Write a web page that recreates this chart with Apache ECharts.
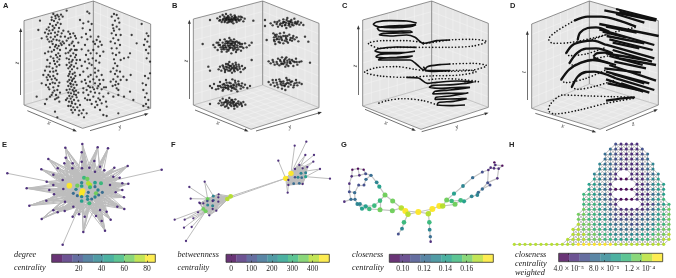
<!DOCTYPE html>
<html><head><meta charset="utf-8">
<style>html,body{margin:0;padding:0;background:#fff}#c{width:676px;height:278px}</style>
<script src="https://cdn.jsdelivr.net/npm/echarts@6/dist/echarts.min.js"></script>
</head><body><div id="c"></div>
<script>
const VIRIDIS=['#440154','#482878','#3E4A89','#31688E','#26828E','#1F9E89','#35B779','#6DCD59','#B4DE2C','#FDE725'];
const VIRIDIS_SOFT=['#693476','#6D5393','#656EA0','#5A86A5','#519BA5','#4CB1A1','#5DC594','#8AD77A','#C3E556','#FDEC51'];

const boxA=[[280,3],[72,62],[452,72],[72,315],[248,385],[452,325],[280,255]];
const boxB=[[278,3],[70,57],[447,70],[70,315],[243,388],[447,323],[278,255]];
const boxC=[[275,3],[68,60],[445,70],[68,318],[243,388],[445,322],[275,258]];
const boxD=[[250,3],[77,72],[457,62],[77,325],[282,388],[457,315],[250,252]];
const arrowsA=[[62,285,62,90],[82,332,225,392],[270,392,440,342]];
const arrowsB=[[58,297,58,65],[75,330,230,392],[258,393,450,338]];
const arrowsC=[[55,285,55,82],[75,328,222,390],[245,395,440,340]];
const arrowsD=[[64,300,64,98],[88,340,265,395],[300,392,450,330]];

const pointsA=[[160,42],[172,45],[183,44],[155,52],[167,55],[178,58],[188,50],[162,63],[173,68],[150,72],[158,78],[168,75],[182,72],[140,88],[148,92],[158,90],[135,98],[145,102],[165,98],[175,95],[190,92],[140,110],[152,112],[172,105],[182,110],[160,118],[170,120],[178,122],[148,125],[188,125],[158,132],[168,135],[176,138],[185,135],[150,142],[172,145],[180,150],[162,150],[145,155],[135,160],[175,160],[168,165],[180,168],[152,170],[160,175],[178,178],[142,180],[172,185],[150,190],[165,192],[178,195],[140,200],[158,205],[135,212],[150,215],[168,212],[145,225],[160,228],[130,225],[172,222],[155,238],[143,240],[170,240],[165,250],[150,252],[138,255],[175,258],[160,262],[148,268],[172,270],[180,278],[158,278],[168,285],[150,290],[175,292],[165,298],[140,298],[178,305],
[205,95],[220,100],[195,110],[212,112],[228,115],[200,122],[218,125],[235,128],[208,135],[222,138],[198,145],[214,148],[230,150],[205,158],[220,160],[212,168],[225,172],[200,175],[218,180],[208,188],[228,190],[214,195],[222,200],[205,205],[216,208],[210,215],[224,218],[218,222],[205,228],[213,232],[222,235],[208,240],[216,243],[226,246],[211,250],[220,254],[205,258],[214,260],[223,264],[209,268],[218,270],[228,272],[205,278],[213,280],[222,283],[208,288],[217,290],[230,292],[212,296],[222,300],[235,302],[207,305],[216,310],[226,312],[212,318],[220,322],[214,330],[240,315],[250,330],[245,340],[252,352],[238,332],[232,322],
[262,35],[268,40],[240,60],[250,70],[265,65],[275,72],[248,85],[270,90],[258,102],[245,112],[262,118],[255,135],[245,148],[265,152],[258,165],[240,180],[255,185],[268,190],[245,198],[262,205],[250,215],[240,225],[265,230],[255,240],
[295,110],[290,120],[300,125],[285,132],[295,140],[280,150],[290,160],[300,168],[278,175],[288,182],[298,188],[275,195],[285,205],[295,212],[305,225],[290,230],[280,238],[298,240],[270,245],[285,250],[300,252],[265,258],[278,262],[292,265],[305,268],[260,270],[272,275],[285,278],[298,280],[250,278],[265,285],[280,290],[295,295],[310,290],[255,295],[270,300],[288,305],[305,310],[318,305],[285,322],[300,330],[320,320],[310,345],[320,348],[250,265],
[342,42],[350,45],[355,55],[345,62],[338,75],[350,80],[358,88],[342,92],[335,100],[348,105],[340,115],[355,120],[345,130],[350,145],[338,160],[348,165],[358,158],[372,175],[385,172],[345,190],[352,198],[340,205],[350,212],[345,222],[353,230],[340,238],[348,245],[355,252],[338,258],[350,265],[395,105],[410,130],[390,160],[370,230],[380,240],[325,280],[340,290],[355,285],[390,275],[355,340],
[440,100],[445,108],[435,118],[442,125],[432,135],[448,140],[438,150],[445,160],[440,175],[450,185],[435,228],[445,235],[428,250],[438,255],[450,220],[430,270],[440,280],[435,292],[445,300],[438,312],[430,318],[445,322],[425,72],
[120,62],[200,32],[115,90],[125,115],[198,300],[165,335],[135,312],[172,352],[110,290],[125,250],[392,225],[400,300],[372,290],
[155,60],[166,48],[176,50],[146,82],[163,84],[177,84],[153,100],[185,100],[143,118],[165,110],[155,124],[182,130],[165,140],[155,155],[172,172],[162,183],[148,200],[170,200],[160,215],[140,232],[150,230],[165,235],[158,248],[178,248],[145,262],[163,272],[155,285],[170,295],
[210,102],[225,108],[205,115],[192,130],[215,130],[225,150],[210,152],[197,160],[228,165],[207,178],[230,180],[215,185],[200,195],[232,205],[210,200],[226,228],[203,245],[230,255],[200,270],[235,278],[202,295],[228,285],[225,330],[205,318],[218,338],[236,345],[260,340],[215,305],[222,275],[212,252],[218,238],[208,222],
[272,110],[280,125],[305,135],[272,160],[310,155],[265,178],[285,218],[272,225],[310,240],[258,250],[312,262],[245,245],[282,268],[295,258],[270,262],[262,300],[300,300],[275,312],[292,315],[318,262],
[335,50],[358,68],[340,85],[362,105],[332,125],[360,135],[335,145],[342,178],[362,180],[332,215],[360,215],[332,245],[362,240],[346,255],[355,270]];

const pointsB=[[120,60],[250,62],[142,55],[148,62],[150,50],[155,66],[158,45],[160,57],[163,50],[165,62],[168,42],[170,54],[172,68],[174,48],[176,60],[178,52],[180,64],[182,44],[184,56],[186,50],[188,62],[190,70],[192,54],[194,46],[196,60],[198,52],[200,66],[203,56],[206,50],[208,62],[212,58],[216,52],[220,64],[224,56],[168,58],[178,58],[186,58],[196,56],[172,52],[164,66],
[98,132],[245,128],[130,135],[135,142],[140,128],[143,150],[146,135],[150,120],[152,142],[155,155],[158,128],[160,136],[162,148],[164,118],[166,130],[168,142],[170,155],[172,124],[174,136],[176,148],[178,114],[180,130],[182,142],[184,160],[186,124],[188,136],[190,150],[192,118],[194,130],[196,142],[198,156],[200,124],[202,136],[205,148],[208,128],[210,140],[213,152],[216,132],[220,144],[225,130],[230,142],[238,136],[165,136],[172,130],[180,136],[188,144],[196,134],[204,128],[160,144],[176,140],[184,132],[192,138],
[115,200],[120,212],[245,180],[146,208],[150,200],[154,212],[158,196],[162,205],[165,216],[168,192],[172,202],[175,212],[178,186],[180,198],[183,208],[186,218],[188,192],[191,204],[194,214],[197,188],[200,200],[203,210],[206,194],[209,206],[212,216],[216,198],[220,208],[225,204],[178,204],[186,204],[170,208],[196,204],
[120,258],[126,264],[132,252],[138,268],[144,258],[150,246],[154,262],[158,272],[162,252],[165,262],[168,240],[172,256],[175,268],[178,248],[181,260],[184,272],[187,238],[190,254],[193,266],[196,248],[199,260],[202,274],[205,244],[208,256],[212,266],[216,250],[220,262],[225,254],[232,264],[240,258],[175,258],[184,258],[192,256],[168,264],[200,254],[160,262],
[120,312],[146,310],[150,302],[154,316],[158,296],[162,308],[165,320],[168,300],[172,312],[175,324],[178,294],[181,306],[184,318],[187,300],[190,312],[193,326],[196,298],[199,310],[202,320],[205,304],[208,314],[212,308],[216,318],[220,306],[226,314],[176,308],[184,310],[192,306],[170,318],[198,316],
[285,60],[285,78],[400,75],[302,70],[308,76],[314,66],[320,72],[324,80],[328,62],[332,70],[336,78],[340,58],[343,66],[346,74],[349,84],[352,54],[355,64],[358,72],[361,80],[364,60],[367,68],[370,76],[373,56],[376,66],[380,72],[384,64],[388,74],[393,68],[348,68],[356,70],[338,70],[362,66],
[290,120],[405,110],[415,125],[310,100],[312,112],[314,124],[316,132],[320,104],[322,116],[326,126],[330,100],[332,110],[336,120],[340,130],[342,98],[346,108],[350,118],[354,128],[358,104],[362,114],[366,122],[370,108],[374,118],[380,112],[385,124],[320,118],[334,114],[348,114],[312,120],[326,110],
[420,188],[296,184],[302,190],[308,180],[314,194],[320,186],[324,176],[328,196],[332,184],[336,172],[340,192],[343,180],[346,200],[349,172],[352,188],[355,198],[358,178],[362,190],[366,180],[370,198],[374,186],[378,176],[382,194],[388,186],[394,184],[344,188],[352,182],[336,190],[360,184],
[296,246],[302,254],[308,240],[314,258],[320,248],[324,262],[328,238],[332,252],[336,266],[340,244],[343,256],[346,270],[349,234],[352,248],[355,260],[358,240],[362,254],[366,244],[370,262],[374,250],[378,240],[382,256],[388,248],[395,252],[340,250],[348,252],[334,246],[356,250],
[170,60],[175,56],[182,60],[190,58],[198,60],[165,55],[205,60],[185,66],[176,66],[195,50],[158,60],[212,50],[150,60],
[150,135],[158,140],[166,142],[174,128],[180,144],[186,130],[194,146],[202,142],[210,132],[168,124],[178,124],[190,126],[155,148],[175,152],[200,150],[145,128],[215,140],[182,120],[170,148],[196,126],
[160,200],[168,200],[176,196],[184,198],[192,198],[200,206],[208,200],[165,210],[180,212],[192,210],[174,192],[198,194],
[150,258],[158,254],[166,256],[174,264],[182,250],[190,262],[198,268],[206,252],[214,258],[170,248],[186,264],[160,268],[195,242],[145,266],
[160,314],[166,306],[174,302],[180,314],[188,306],[196,314],[204,310],[170,306],[184,300],[192,318],[155,308],[214,312],
[330,74],[340,66],[350,60],[356,76],[366,74],[375,70],[345,76],[322,66],[382,68],[360,64],
[318,110],[328,118],[340,108],[352,108],[360,120],[368,114],[344,122],[330,128],[350,124],[315,105],
[310,186],[322,192],[330,180],[342,184],[350,194],[360,188],[370,184],[380,186],[334,192],[346,176],
[310,248],[322,254],[330,244],[344,258],[352,240],[362,246],[372,256],[380,248],[336,256],[318,240]];

const solidC=[
[[230,69],[200,63],[150,62],[110,66],[100,73],[115,80],[160,83],[210,80],[228,74],[200,76],[140,79],[112,85],[120,92],[160,94],[210,93],[217,97],[180,99],[130,100],[118,104],[150,108],[200,105],[225,112],[250,130],[290,122],[330,120]],
[[230,142],[170,141],[115,146],[105,153],[130,158],[190,158],[225,154],[180,160],[120,163],[108,170],[140,174],[200,172],[218,168],[170,172],[122,175],[115,180],[150,180],[210,180],[232,195],[252,210],[262,200],[300,194],[330,192]],
[[255,212],[275,214],[330,212],[262,212],[250,200]],
[[200,232],[235,234],[262,250],[290,247],[350,243],[400,246],[340,254],[280,256],[268,262],[300,265],[360,262],[390,262],[330,270],[285,274],[278,282],[320,280],[375,280],[385,278],[330,288],[288,292],[285,298],[330,297],[380,296],[340,304],[295,308],[292,315],[330,317],[375,315]]];
const dottedC=[
[[250,132],[330,120],[400,118],[440,125],[400,138],[320,142],[230,142]],
[[250,128],[200,122],[130,122],[85,130],[120,145],[180,142],[230,142]],
[[330,192],[400,190],[440,197],[400,210],[330,214],[270,212]],
[[330,212],[380,210],[408,215],[360,225],[270,228],[200,232],[120,228],[74,216],[110,203],[170,200],[225,208],[250,212]],
[[375,246],[415,245],[360,238],[300,236],[262,240]],
[[292,315],[250,302],[190,296],[140,302],[110,312]]];

const solidD=[
[[295,31],[450,62]],[[330,27],[452,58]],[[340,35],[440,60]],[[330,42],[415,68]],[[280,72],[458,108]],[[300,80],[392,98]],[[290,95],[360,112]],[[280,88],[445,135]],[[302,108],[415,130]],[[310,118],[440,150]],[[320,128],[400,145]],
[[300,134],[445,175]],[[320,150],[438,185]],[[300,160],[420,180]],[[310,168],[410,195]],[[340,175],[450,195]],[[325,185],[420,205]],[[295,205],[405,218]],[[310,195],[450,242]],[[300,215],[430,250]],[[300,238],[412,275]],[[330,235],[445,270]],[[320,222],[415,250]],[[305,250],[400,270]],[[345,250],[430,278]],
[[385,292],[350,295],[300,302]],
[[390,80],[340,62],[285,50],[245,50],[205,62]],
[[215,120],[222,98],[245,84],[270,82],[310,95]],
[[180,160],[200,135],[230,125],[260,122],[300,135]],
[[190,190],[212,160],[240,146],[270,145],[320,160]],
[[262,170],[272,160],[295,158],[340,172]],[[262,172],[280,180],[330,195]],
[[165,240],[190,208],[225,188],[260,180],[310,190]],
[[197,262],[215,230],[240,216],[265,215],[330,235]]];
const dottedD=[
[[205,62],[150,95],[128,118],[140,130],[190,128],[270,112],[350,90],[390,82]],
[[215,120],[216,126],[260,118],[310,100]],
[[180,160],[190,167],[240,162],[300,142]],
[[190,190],[198,195],[250,180],[320,165]],
[[165,240],[178,248],[240,235],[310,205]],
[[197,262],[215,268],[270,258],[330,240]],
[[385,292],[320,290],[250,288],[170,285],[135,310],[127,330],[145,342],[220,330],[300,310],[385,295]]];

const nodesE=[[208,152,9,'bcd'],[248,168,9,'cdefg'],[265,145,8,'deh'],[252,128,6,'hj'],[288,175,7,'fgh'],[268,205,6,'gi'],[245,198,5,'ij'],[303,145,6,'j'],[228,163,4,'j'],[285,155,3,''],
[245,176,9,'aceh'],[270,150,8,'afg'],[262,132,7,'aef'],[232,152,7,'ceh'],[270,157,6,'ag'],[245,153,5,'ef'],[245,143,4,'fh'],[285,143,5,'ag'],[220,175,3,'dh'],[232,182,3,'ce'],[245,185,4,'ch'],[262,184,4,'ad'],[263,193,4,'cd'],[275,192,3,'ad'],[285,186,4,'ac'],[296,180,3,'ad'],[307,172,3,'ac'],[265,172,3,'ad'],[294,165,4,'ag'],[220,215,1,'cd'],[300,225,1,'cd'],
[22,115,1,'a'],[485,104,1,'h'],[247,27,1,'cd'],[196,38,1,'ad'],[293,37,1,'dch'],[324,40,1,'ch'],[145,72,1,'ad'],[197,68,1,'adc'],[124,103,1,'ai'],[173,100,1,'adb'],[383,93,1,'hc'],[343,98,1,'hjc'],[313,106,1,'hcd'],[80,160,1,'ai'],[140,140,1,'adi'],[160,119,1,'adb'],[188,135,1,'bcd'],[190,162,1,'bgi'],[148,165,1,'aig'],[162,178,1,'agb'],[139,197,1,'aig'],[88,212,1,'ig'],[125,252,1,'ig'],[160,226,1,'igf'],[173,232,1,'gfi'],[194,228,1,'gfb'],[195,200,1,'gib'],[218,245,1,'gf'],[237,238,1,'gfb'],[254,245,1,'gfe'],[250,291,1,'gf'],[188,329,1,'g'],[315,287,1,'fe'],[288,243,1,'fge'],[332,254,1,'fe'],[320,230,1,'feh'],[305,258,1,'fe'],[373,222,1,'ef'],[352,215,1,'efj'],[372,187,1,'ehj'],[385,146,1,'he'],[367,145,1,'hjb'],[367,165,1,'ehj'],[347,172,1,'ehb'],[340,125,1,'hcj'],[359,128,1,'hcj'],[330,150,1,'hjb'],[193,85,1,'adc'],[217,100,1,'adc'],[245,80,1,'dcb'],[268,98,1,'dch'],[285,110,1,'hdc'],[283,78,1,'dch'],[245,52,1,'dc'],[300,95,1,'hcd'],[218,85,1,'dab'],[246,100,1,'dcb'],[160,150,1,'aib']];

const nodesF=[[172,192,8,'bcdefh'],[182,184,8,'cdefh'],[113,192,7,'def'],[100,222,7,'ef'],[107,229,7,'f'],[130,183,4,''],[363,115,9,'hijkl'],[347,130,9,'ijkl'],[375,127,2,'jk'],[395,128,3,'kl'],[355,150,1,'l'],[407,125,5,''],
[146,178,1,'acd'],[145,187,1,'ade'],[130,196,3,'abd'],[112,198,2,'abe'],[128,198,1,'bde'],[113,210,4,'abf'],[128,212,4,'abc'],[100,205,1,'ab'],[145,200,1,'cde'],[128,222,1,'acd'],[139,227,1,'bcd'],[118,241,1,'de'],[90,205,1,'cde'],
[104,140,1,'cf'],[58,156,1,'c'],[62,191,1,'c'],[88,203,1,'d'],[84,232,1,'de'],[14,254,1,'d'],[44,254,1,'de'],[70,250,1,'e'],[42,278,1,'e'],[65,276,1,'e'],[48,318,1,'e'],
[409,20,1,'g'],[374,32,1,'g'],[325,77,1,'h'],[406,60,1,'gi'],[432,60,1,'g'],[430,80,1,'gi'],[450,102,1,'gl'],[480,131,1,'l'],[353,173,1,'hk'],[388,90,1,'gj'],[398,100,1,'gl'],[375,102,1,'hj'],[412,96,1,'gk'],[393,115,4,'hk'],[407,113,4,'gk'],[384,127,4,'hk'],[371,146,3,'gl'],[388,145,3,'gl'],[398,147,1,'gi'],[355,135,1,'il']];
const cliquesF=[[0,1,2,3,4,5,12,13,14,15,16,17,18,19,20,21,22,23,24],[6,7,8,9,10,11,45,46,47,48,49,50,51,52,53,54,55]];

const nodesG=[[13,200,1],[33,193,3],[45,193,3],[28,170,2],[44,173,3],[28,146,1],[35,124,1],[37,104,0],[54,101,0],[71,104,0],[58,121,1],[77,116,2],[93,121,3],[78,133,3],[110,142,4],[118,155,5],[135,180,7],[120,197,6],[103,212,6],[120,224,7],[158,198,7],[157,227,7],[88,222,6],[66,221,5],[77,214,5],[60,207,4],[52,207,4],[72,150,2],[56,150,2],[184,219,8],[196,228,9],[204,238,8],[235,231,9],[265,236,8],[277,222,9],[298,213,9],[308,213,8],[192,262,6],[186,281,4],[175,297,2],[268,262,6],[269,284,4],[271,305,3],[272,320,1],[320,195,7],[335,198,6],[342,176,5],[369,153,4],[398,128,3],[427,111,2],[445,105,1],[452,98,1],[463,82,0],[466,90,1],[476,101,1],[487,92,0],[462,100,1],[472,130,1],[443,143,2],[450,150,2],[427,162,3],[415,172,3],[412,180,4],[395,184,4],[372,199,5],[362,196,6],[345,208,7]];
const pathsG=[[0,1,2,26,25,24,18,17,16,15,14,12,11,9,8,7,6,5,3,1],[3,4,2],[6,10,8],[10,11],[4,28,27,13,12],[26,23,22,19,21,29],[24,22],[17,19],[16,20,29],[29,30,31,32,33,34,35,36,44],[31,37,38,39],[33,40,41,42,43],[36,66,65,64,63,62,61,60,58,57,54,55],[44,46,47,48,49,50,51,56,52,53,55],[56,54],[50,58,59,60],[44,45,65],[45,66],[30,32],[32,34]];

/* rows of the lattice, top row first: [first column, level per node, '.' = no node] */
const rowsH=[[19,'21111'],[18,'3211112'],[17,'332111123'],[17,'332211223'],[16,'43321111234'],[16,'44321111234'],[15,'44321..111234'],[15,'5432100111345'],[14,'55431....112455'],[14,'554310000112455'],[13,'665431....111345'],[13,'6654321000112456'],[13,'6665421....112456'],[13,'76654321111123567'],[12,'776654321112234567'],[12,'776655322222334567'],[12,'877655433322344667'],[11,'8877665443333445677'],[11,'8887766544444556778'],[10,'88887776655555667788'],[0,'88888888888899999998888888888']];

const ticksE=[20,40,60,80],ticksF=[0,100,200,300,400],ticksG=[0.10,0.12,0.14,0.16],ticksH=[4e-5,8e-5,1.2e-4];
const fmtG=v=>v.toFixed(2);
const fmtH=v=>({'0.00004':'4.0 × 10⁻⁵','0.00008':'8.0 × 10⁻⁵','0.00012':'1.2 × 10⁻⁴'})[String(+v.toFixed(6))]||'';

const grids=[],xAxes=[],yAxes=[],series=[],graphics=[];
function panel(px,py,h){
  const i=grids.length;
  grids.push({left:px,top:py,width:170,height:h/3});
  xAxes.push({type:'value',gridIndex:i,min:0,max:510,show:false});
  yAxes.push({type:'value',gridIndex:i,min:0,max:h,inverse:true,show:false});
  return {xAxisIndex:i,yAxisIndex:i};
}
function box(ax,c,arrows){
  series.push(Object.assign({type:'custom',silent:true,animation:false,z:1,clip:false,data:[[0,0]],
    renderItem(p,api){
      const P=c.map(q=>api.coord(q));
      const [bt,lt,rt,lb,fb,rb,bb]=P,kids=[];
      const poly=(pts,fill)=>kids.push({type:'polygon',shape:{points:pts},style:{fill}});
      const seg=(a,b,stroke,w)=>kids.push({type:'line',shape:{x1:a[0],y1:a[1],x2:b[0],y2:b[1]},style:{stroke,lineWidth:w}});
      const mix=(a,b,t)=>[a[0]+(b[0]-a[0])*t,a[1]+(b[1]-a[1])*t];
      poly([lt,bt,bb,lb],'#e6e6e6');poly([bt,rt,rb,bb],'#e6e6e6');poly([lb,bb,rb,fb],'#e6e6e6');
      for(let k=1;k<8;k++){const t=k/8,G='#f4f4f4';
        seg(mix(lt,bt,t),mix(lb,bb,t),G,.5);seg(mix(lt,lb,t),mix(bt,bb,t),G,.5);
        seg(mix(bt,rt,t),mix(bb,rb,t),G,.5);seg(mix(bt,bb,t),mix(rt,rb,t),G,.5);
        seg(mix(lb,bb,t),mix(fb,rb,t),G,.5);seg(mix(lb,fb,t),mix(bb,rb,t),G,.5);}
      [[lt,bt],[bt,rt],[lt,lb],[rt,rb],[bt,bb],[lb,fb],[fb,rb]].forEach(e=>seg(e[0],e[1],'#666',.7));
      seg(lb,bb,'#9a9a9a',.5);seg(bb,rb,'#9a9a9a',.5);
      return {type:'group',children:kids};
    }},ax));
  series.push(Object.assign({type:'scatter',symbolSize:0,silent:true,animation:false,z:2,data:arrows.map(a=>[a[2],a[3]]),
    markLine:{silent:true,animation:false,symbol:['none','triangle'],symbolSize:[3,4],label:{show:false},
      lineStyle:{color:'#333',width:.7,type:'solid'},
      data:arrows.map(a=>[{coord:[a[0],a[1]]},{coord:[a[2],a[3]]}])}},ax));
}
function dots(ax,data,size){series.push(Object.assign({type:'scatter',data,symbolSize:size,silent:true,animation:false,z:3,clip:false,itemStyle:{color:'#111'}},ax));}
function curves(ax,paths,width,dash){paths.forEach(d=>series.push(Object.assign({type:'line',data:d,smooth:d.length>2?0.3:false,showSymbol:false,silent:true,animation:false,z:dash?3:4,clip:false,
  lineStyle:{color:'#111',width,type:dash?[0.1,3.2]:'solid',cap:dash?'round':'butt'}},ax)));}
function network(ax,nodes,links,sizes,edge,ew){
  series.push(Object.assign({type:'graph',coordinateSystem:'cartesian2d',layout:'none',silent:true,animation:false,z:3,symbol:'circle',
    data:nodes.map(n=>({value:[n[0],n[1]],symbolSize:sizes[n[2]],itemStyle:{color:VIRIDIS[n[2]],opacity:.95}})),
    links,lineStyle:{color:edge,width:ew,opacity:1,curveness:0},label:{show:false},emphasis:{disabled:true}},ax));
}
function letterLinks(nodes){const out=[];nodes.forEach((n,i)=>{for(const ch of n[3])out.push({source:i,target:ch.charCodeAt(0)-97});});return out;}
function colorbar(left,top,width,height,min,max,ticks,fmt){
  const i=grids.length;
  grids.push({left,top,width,height});
  const common={type:'value',gridIndex:i,min,max,z:10,splitLine:{show:false},axisLine:{show:false}};
  const tk={show:true,inside:true,length:1.6,customValues:ticks,lineStyle:{color:'#222',width:.7}};
  const xi=xAxes.length;
  xAxes.push(Object.assign({},common,{position:'bottom',axisTick:tk,axisLabel:{show:true,customValues:ticks,margin:3,hideOverlap:false,formatter:fmt,fontFamily:'Liberation Serif',fontSize:7.5,color:'#222'}}));
  xAxes.push(Object.assign({},common,{position:'top',axisTick:tk,axisLabel:{show:false}}));
  const yi=yAxes.length;
  yAxes.push({type:'value',gridIndex:i,min:0,max:1,show:false});
  const ax={xAxisIndex:xi,yAxisIndex:yi};
  const step=(max-min)/10;
  series.push(Object.assign({type:'custom',silent:true,animation:false,z:2,data:VIRIDIS_SOFT.map((c,k)=>[min+k*step,min+(k+1)*step,k]),
    renderItem(p,api){const a=api.coord([api.value(0),0]),b=api.coord([api.value(1),1]);
      return {type:'rect',shape:{x:a[0],y:b[1],width:b[0]-a[0]+.3,height:a[1]-b[1]},style:{fill:VIRIDIS_SOFT[api.value(2)]}};}},ax));
  series.push(Object.assign({type:'custom',silent:true,animation:false,z:3,data:[[min,max]],
    renderItem(p,api){const a=api.coord([api.value(0),0]),b=api.coord([api.value(1),1]);
      return {type:'rect',shape:{x:a[0],y:b[1],width:b[0]-a[0],height:a[1]-b[1]},style:{fill:'none',stroke:'#333',lineWidth:.8}};}},ax));
}
function label(text,x,y,font,opt){graphics.push({type:'text',x,y,rotation:(opt&&opt.rot)||0,silent:true,style:Object.assign({text,font,fill:'#222',textAlign:'left',textVerticalAlign:'middle'},opt&&opt.style)});}

const a=panel(0,0,405),b=panel(170,0,405),c=panel(340,0,405),d=panel(506,0,405);
box(a,boxA,arrowsA);box(b,boxB,arrowsB);box(c,boxC,arrowsC);box(d,boxD,arrowsD);
dots(a,pointsA,2.3);dots(b,pointsB,2.4);
curves(c,solidC,1.6,false);curves(c,dottedC,1.6,true);
curves(d,solidD,2.3,false);curves(d,dottedD,1.6,true);

const e=panel(0,135,429),f=panel(170,135,429),g=panel(340,135,429),h=panel(506,135,429);
const linksE=letterLinks(nodesE);
nodesE.forEach((n,i)=>{if(i<31||n[3].length<2)return;for(let k=0;k<6;k++)linksE.push({source:i,target:10+((i+k*3)%19)});});
network(e,nodesE,linksE,[2.4,2.5,2.8,3.1,3.4,3.7,4,4.3,4.7,5.6],'#bdbdbd',1);
const linksF=letterLinks(nodesF);
cliquesF.forEach(q=>q.forEach((u,i)=>{for(let j=i+1;j<q.length;j++)linksF.push({source:u,target:q[j]});}));
network(f,nodesF,linksF,[2.3,2.3,2.5,2.8,3,3.2,3.6,4,4.7,5.4],'#bdbdbd',1);
const linksG=[];pathsG.forEach(p=>{for(let i=1;i<p.length;i++)linksG.push({source:p[i-1],target:p[i]});});
network(g,nodesG,linksG,[2.4,2.6,3,3.4,3.8,4.2,4.6,5,5.5,6],'#c4c4c4',1.2);

const nodesH=[],idx={};
rowsH.forEach((row,r)=>{const y=27+r*15.05;[...row[1]].forEach((ch,k)=>{if(ch==='.')return;const col=row[0]+k;idx[r+'_'+col]=nodesH.length;nodesH.push([25+col*16,y,+ch]);});});
const linksH=[];
Object.keys(idx).forEach(key=>{const [r,col]=key.split('_').map(Number);
  [[r,col+1],[r+1,col],[r+1,col+1],[r+1,col-1]].forEach(t=>{const j=idx[t[0]+'_'+t[1]];if(j!==undefined)linksH.push({source:idx[key],target:j});});});
network(h,nodesH,linksH,[3,3,3,3,3,3,3,3.1,3.2,3.2],'#bdbdbd',1);

colorbar(51.7,254.3,103.6,8,-3.7,87.3,ticksE);
colorbar(226,254.3,103.3,8,-24.5,481,ticksF);
colorbar(389.3,254.3,104,8,0.0874,0.1849,ticksG,fmtG);
colorbar(558.7,253.3,104,8.4,2.88e-5,1.457e-4,ticksH,fmtH);

const LETTER='bold 7.5px "Liberation Sans"',TITLE='italic 8.3px "Liberation Serif"',AX='italic 6.5px "Liberation Serif"';
[['A',3,6],['B',172,6],['C',342,6],['D',510,6],['E',2,145],['F',171,145],['G',341,145],['H',509,145]].forEach(t=>label(t[0],t[1],t[2],LETTER));
[['degree',14,255],['centrality',14,268],['betweenness',177.5,255],['centrality',177.5,268],['closeness',352,255],['centrality',352,268],['closeness',515,254.5],['centrality',515,263.5],['weighted',515,272.5]].forEach(t=>label(t[0],t[1],t[2],TITLE));
const mid={textAlign:'center'};
[['z',17,63,1.57],['x',49,123,-.38],['y',120,127,.28],['z',186,61,1.57],['x',218,123,-.38],['y',290,127,.28],['z',355,66,1.57],['x',386,123,-.38],['y',457,127,.28],['t',524,72,1.57],['x',563,126,-.3],['z',633,124,.35]]
 .forEach(t=>label(t[0],t[1],t[2],AX,{rot:t[3],style:mid}));

echarts.init(document.getElementById('c')).setOption({animation:false,backgroundColor:'#fff',grid:grids,xAxis:xAxes,yAxis:yAxes,series,graphic:graphics});
</script></body></html>
